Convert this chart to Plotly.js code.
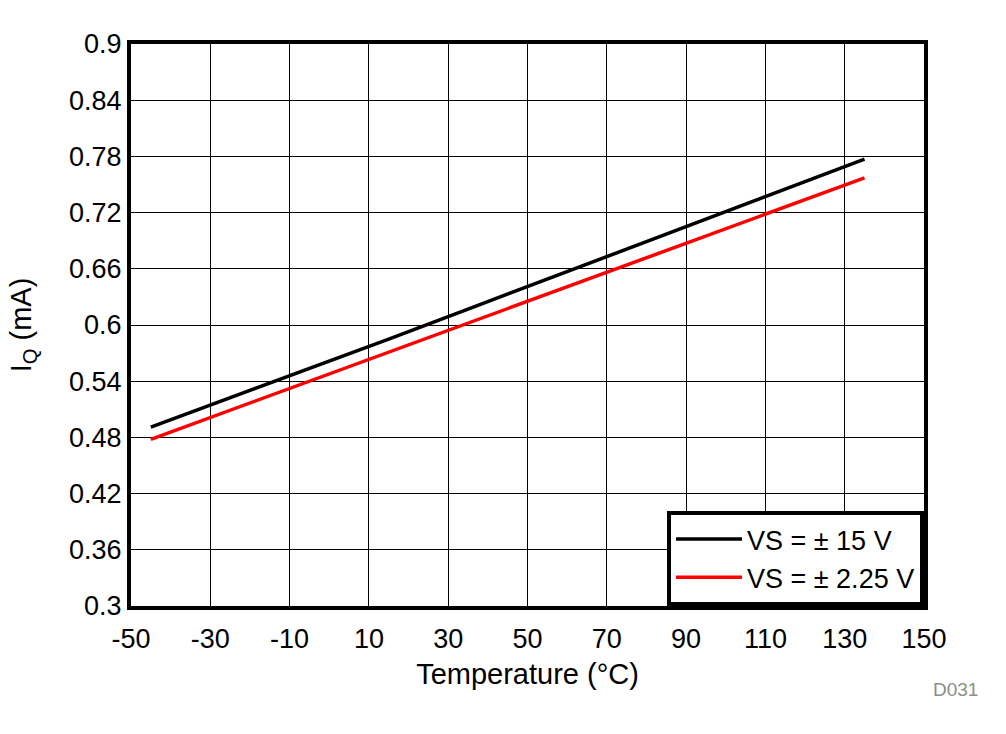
<!DOCTYPE html>
<html>
<head>
<meta charset="utf-8">
<script src="https://cdn.plot.ly/plotly-3.0.1.min.js"></script>
<style>html,body{margin:0;padding:0;background:#fff;}#chart{width:1006px;height:734px;}</style>
</head>
<body>
<div id="chart"></div>
<script>
const temperature = [-45, -25, -5, 15, 35, 55, 75, 95, 115, 135];
const iq15 = [0.491, 0.522, 0.553, 0.585, 0.617, 0.649, 0.681, 0.713, 0.745, 0.777];
const iq225 = [0.478, 0.509, 0.540, 0.571, 0.602, 0.633, 0.664, 0.695, 0.726, 0.757];
const seriesNames = ["VS = \u00B1 15 V", "VS = \u00B1 2.25 V"];
const xTicks = [-50, -30, -10, 10, 30, 50, 70, 90, 110, 130, 150];
const yTicks = [0.3, 0.36, 0.42, 0.48, 0.54, 0.6, 0.66, 0.72, 0.78, 0.84, 0.9];
const yTickText = ["0.3", "0.36", "0.42", "0.48", "0.54", "0.6", "0.66", "0.72", "0.78", "0.84", "0.9"];

const font = "Arial, 'Liberation Sans', sans-serif";
const fs = 27;
const tfs = 29;
const traces = [
  {x: temperature, y: iq15, name: seriesNames[0], mode: "lines", line: {color: "#000000", width: 3.5}},
  {x: temperature, y: iq225, name: seriesNames[1], mode: "lines", line: {color: "#ff0000", width: 3.5}}
];
const layout = {
  width: 1006, height: 734,
  margin: {l: 131, r: 82, t: 44, b: 128},
  paper_bgcolor: "#ffffff", plot_bgcolor: "#ffffff",
  font: {family: font, size: fs, color: "#000000"},
  xaxis: {
    range: [-50, 150], tickvals: xTicks, ticktext: xTicks.map(String),
    showgrid: true, gridcolor: "#000000", gridwidth: 1,
    showline: true, linecolor: "#000000", linewidth: 4, mirror: true,
    zeroline: false, ticks: "", ticklen: 0, ticklabelstandoff: 6,
    tickfont: {family: font, size: fs, color: "#000000"},
    title: {text: "Temperature (\u00B0C)", font: {family: font, size: tfs, color: "#000000"}, standoff: 11},
    automargin: false
  },
  yaxis: {
    range: [0.3, 0.9], tickvals: yTicks, ticktext: yTickText,
    showgrid: true, gridcolor: "#000000", gridwidth: 1,
    showline: true, linecolor: "#000000", linewidth: 4, mirror: true,
    zeroline: false, ticks: "", ticklen: 0,
    tickfont: {family: font, size: fs, color: "#000000"},
    title: {text: "I<sub>Q</sub> (mA)", font: {family: font, size: tfs, color: "#000000"}, standoff: 30},
    automargin: false
  },
  showlegend: true,
  legend: {
    x: 1, y: 0, xanchor: "right", yanchor: "bottom",
    bgcolor: "#ffffff", bordercolor: "#000000", borderwidth: 4,
    font: {family: font, size: fs, color: "#000000"},
    itemwidth: 66, tracegroupgap: 0
  },
  annotations: [
    {text: "D031", xref: "paper", yref: "paper", x: 1.0706, y: -0.1477, xanchor: "right", yanchor: "middle",
     showarrow: false, font: {family: font, size: 19, color: "#8c8c8c"}}
  ]
};
Plotly.newPlot("chart", traces, layout, {displayModeBar: false, staticPlot: true});
</script>
</body>
</html>
